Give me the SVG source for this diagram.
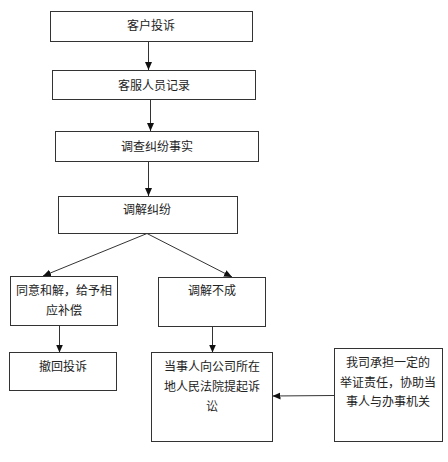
<svg xmlns="http://www.w3.org/2000/svg" width="448" height="462" viewBox="0 0 448 462">
<defs>
<marker id="ah" viewBox="0 0 8 8" refX="8" refY="4" markerWidth="8" markerHeight="8" markerUnits="userSpaceOnUse" orient="auto">
<path d="M0,0.5 L8,4 L0,7.5 Z" fill="#111"/>
</marker>
<style>
.box{fill:#fff;stroke:#333;stroke-width:1}
.t{font-family:"Liberation Sans","Noto Sans CJK SC",sans-serif;font-size:12px;fill:#222;text-anchor:middle}
.c{stroke:#333;stroke-width:1;fill:none;marker-end:url(#ah)}
</style>
</defs>
<rect width="448" height="462" fill="#fff"/>
<g id="connectors">
<line class="c" x1="148.5" y1="41.5" x2="148.5" y2="70"/>
<line class="c" x1="150.5" y1="100" x2="150.5" y2="131"/>
<line class="c" x1="148.5" y1="162" x2="148.5" y2="196"/>
<line class="c" x1="147" y1="233.5" x2="43" y2="276"/>
<line class="c" x1="147" y1="233.5" x2="232" y2="277"/>
<line class="c" x1="59.5" y1="325.5" x2="59.5" y2="352.5"/>
<line class="c" x1="212.5" y1="326.5" x2="212.5" y2="352.5"/>
<line class="c" x1="334" y1="395.5" x2="272.5" y2="396"/>
</g>
<g id="n1"><rect class="box" x="50.5" y="11.5" width="202" height="30"/><text class="t" x="151" y="30">客户投诉</text></g>
<g id="n2"><rect class="box" x="52.5" y="70.5" width="203" height="29"/><text class="t" x="154" y="90">客服人员记录</text></g>
<g id="n3"><rect class="box" x="55.5" y="131.5" width="203" height="30"/><text class="t" x="157" y="151">调查纠纷事实</text></g>
<g id="n4"><rect class="box" x="58.5" y="196.5" width="179" height="37"/><text class="t" x="147" y="214">调解纠纷</text></g>
<g id="n5"><rect class="box" x="10.5" y="276.5" width="107" height="49"/><text class="t" x="64" y="295">同意和解，给予相</text><text class="t" x="64" y="315">应补偿</text></g>
<g id="n6"><rect class="box" x="158.5" y="277.5" width="107" height="49"/><text class="t" x="212" y="295">调解不成</text></g>
<g id="n7"><rect class="box" x="9.5" y="352.5" width="107" height="38"/><text class="t" x="63" y="371">撤回投诉</text></g>
<g id="n8"><rect class="box" x="151.5" y="352.5" width="121" height="89"/><text class="t" x="212" y="371">当事人向公司所在</text><text class="t" x="212" y="391">地人民法院提起诉</text><text class="t" x="212" y="411">讼</text></g>
<g id="n9"><rect class="box" x="334.5" y="348.5" width="108" height="93"/><text class="t" x="388" y="367">我司承担一定的</text><text class="t" x="388" y="387">举证责任，协助当</text><text class="t" x="388" y="406">事人与办事机关</text></g>
</svg>
